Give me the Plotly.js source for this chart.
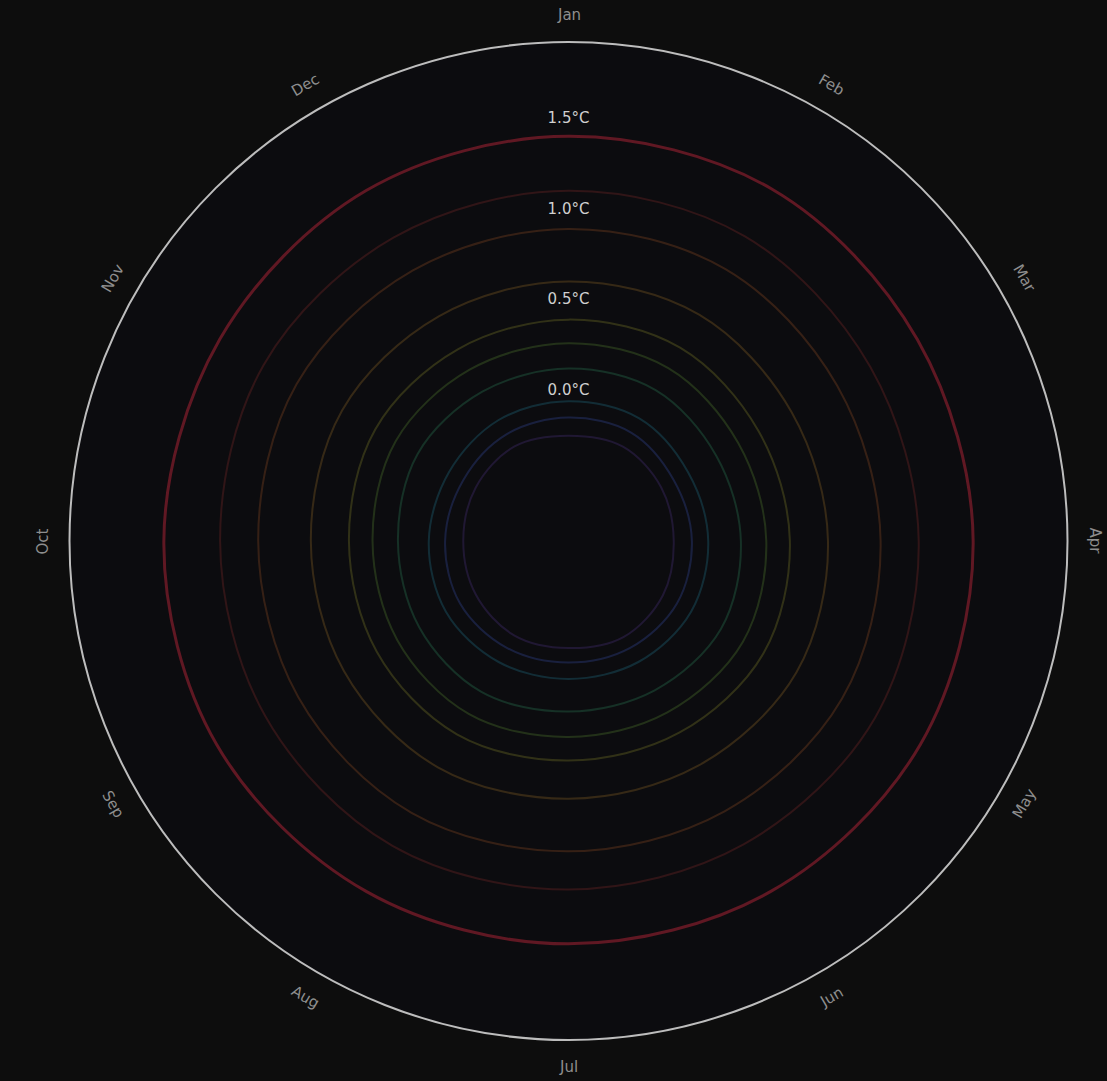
<!DOCTYPE html>
<html>
<head>
<meta charset="utf-8">
<script src="https://cdn.plot.ly/plotly-3.0.1.min.js"></script>
<style>html,body{margin:0;padding:0;background:#0d0d0d;}</style>
</head>
<body>
<div id="chart" style="width:1107px;height:1081px;"></div>
<script>
// ---- data (estimated) ----
const months = ['Jan','Feb','Mar','Apr','May','Jun','Jul','Aug','Sep','Oct','Nov','Dec'];
const years = ['1850','1880','1910','1940','1960','1980','1995','2005','2015','2023'];
const colors = ['#3f2a6a','#2e3f86','#1d5f72','#25684a','#466a2a','#6a6a24','#765622','#764020','#682424','#7c1c2a'];
const v1850 = [-0.17,-0.15,-0.16,-0.17,-0.15,-0.14,-0.16,-0.15,-0.16,-0.17,-0.16,-0.15];
const v1880 = [-0.07,-0.06,-0.08,-0.07,-0.06,-0.07,-0.08,-0.07,-0.06,-0.07,-0.08,-0.07];
const v1910 = [0.02,0.03,0.01,0.02,0.03,0.02,0.01,0.02,0.03,0.02,0.01,0.02];
const v1940 = [0.20,0.21,0.19,0.20,0.22,0.20,0.19,0.21,0.20,0.19,0.21,0.20];
const v1960 = [0.34,0.35,0.33,0.34,0.36,0.34,0.33,0.35,0.34,0.33,0.35,0.34];
const v1980 = [0.47,0.48,0.46,0.47,0.49,0.47,0.46,0.48,0.47,0.46,0.48,0.47];
const v1995 = [0.68,0.69,0.67,0.68,0.70,0.68,0.67,0.69,0.68,0.67,0.69,0.68];
const v2005 = [0.97,0.98,0.96,0.97,0.99,0.97,0.96,0.98,0.97,0.96,0.98,0.97];
const v2015 = [1.18,1.19,1.17,1.18,1.20,1.18,1.17,1.19,1.18,1.17,1.19,1.18];
const v2023 = [1.48,1.49,1.47,1.48,1.49,1.48,1.47,1.48,1.49,1.48,1.47,1.48];
const series = [v1850,v1880,v1910,v1940,v1960,v1980,v1995,v2005,v2015,v2023];
const refValues = [1.5,1.0,0.5,0.0];
const refLabels = ['1.5°C','1.0°C','0.5°C','0.0°C'];
const radialRange = [-0.75, 2.0];

// ---- traces ----
const traces = series.map((vals, i) => ({
  type: 'scatterpolar',
  mode: 'lines',
  r: vals.concat([vals[0]]),
  theta: months.concat([months[0]]),
  line: {color: colors[i], width: i === series.length - 1 ? 3 : 2, shape: 'spline', smoothing: 1},
  opacity: i === series.length - 1 ? 0.75 : 0.4,
  name: years[i],
  hoverinfo: 'name+r+theta',
  showlegend: false
}));

traces.push({
  type: 'scatterpolar',
  mode: 'text',
  r: refValues.map(v => v + 0.075),
  theta: refValues.map(() => months[0]),
  text: refLabels,
  textfont: {family: 'DejaVu Sans, sans-serif', size: 15, color: '#d0d0d0'},
  textposition: 'middle center',
  hoverinfo: 'skip',
  showlegend: false
});

// ---- month labels around the rim, rotated along the circle ----
const W = 1107, H = 1081;
const margin = {l: 65, r: 35, t: 42, b: 41};
const plotW = W - margin.l - margin.r, plotH = H - margin.t - margin.b;
const labelRadiusPx = 526;
const annotations = months.map((m, i) => {
  const ang = i * 30;
  const rad = ang * Math.PI / 180;
  let rot = ang;
  if (ang > 90 && ang < 270) rot = ang - 180;
  if (ang >= 270) rot = ang - 360;
  return {
    xref: 'paper', yref: 'paper',
    x: 0.5 + labelRadiusPx * Math.sin(rad) / plotW,
    y: 0.5 + labelRadiusPx * Math.cos(rad) / plotH,
    text: m, showarrow: false, textangle: rot,
    xanchor: 'center', yanchor: 'middle',
    font: {family: 'DejaVu Sans, sans-serif', size: 15, color: '#8e8e8e'}
  };
});

const layout = {
  width: W, height: H,
  margin: margin,
  paper_bgcolor: '#0d0d0d',
  plot_bgcolor: '#0d0d0d',
  showlegend: false,
  polar: {
    bgcolor: '#0c0c0f',
    angularaxis: {
      type: 'category',
      categoryarray: months,
      rotation: 90,
      direction: 'clockwise',
      showline: true,
      linecolor: '#bdbdbd',
      linewidth: 2,
      showgrid: false,
      ticks: '',
      showticklabels: false
    },
    radialaxis: {
      range: radialRange,
      showline: false,
      showgrid: false,
      showticklabels: false,
      ticks: ''
    }
  },
  annotations: annotations
};

Plotly.newPlot('chart', traces, layout, {displayModeBar: false, staticPlot: true});
</script>
</body>
</html>
